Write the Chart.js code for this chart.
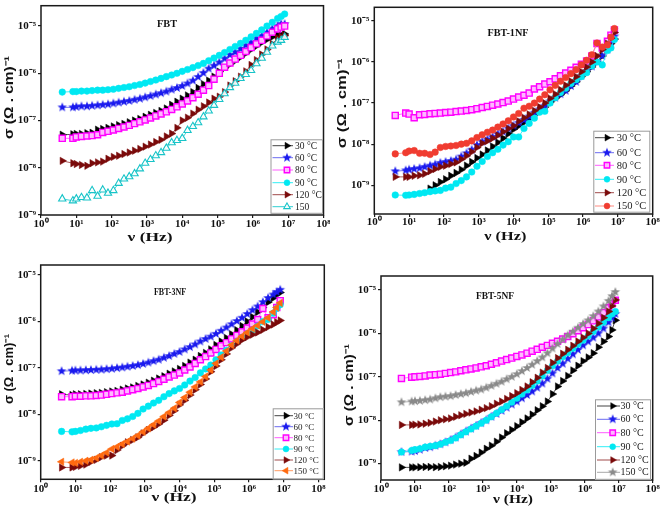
<!DOCTYPE html>
<html><head><meta charset="utf-8">
<script src="https://cdn.jsdelivr.net/npm/chart.js@4.4.0/dist/chart.umd.min.js"></script>
<style>
html,body{margin:0;padding:0;background:#fff;}
#wrap{position:relative;width:661px;height:510px;overflow:hidden;background:#fff;}
canvas{position:absolute;}
</style></head><body>
<div id="wrap">
<canvas id="c1" width="330" height="250" style="left:0px;top:0px"></canvas>
<canvas id="c2" width="331" height="250" style="left:330px;top:0px"></canvas>
<canvas id="c3" width="330" height="260" style="left:0px;top:250px"></canvas>
<canvas id="c4" width="331" height="260" style="left:330px;top:250px"></canvas>
</div>
<script>
// ---------- data ----------
const freq = [4,8,10,14,20,28,40,56,79,112,158,224,316,447,631,891,1260,1780,2510,3550,5010,7080,1.0e4,1.41e4,2.0e4,2.82e4,3.98e4,5.62e4,7.94e4,1.12e5,1.58e5,2.24e5,3.16e5,4.47e5,6.31e5,8.91e5,1.26e6,1.78e6,2.51e6,3.55e6,5.01e6,6.31e6,7.94e6];
const xTicks = [1,10,100,1e3,1e4,1e5,1e6,1e7,1e8];
const yTicks = [1e-9,1e-8,1e-7,1e-6,1e-5];
const tempLabels = ['30 °C','60 °C','80 °C','90 °C','120 °C','150 °C'];
const tempLabelsFBT = ['30 °C','60 °C','80 °C','90 °C','120 °C','150'];
const panelTitles = ['FBT','FBT-1NF','FBT-3NF','FBT-5NF'];

// FBT
const fbt30 = [5.0e-8,5.1e-8,5.2e-8,5.2e-8,5.4e-8,5.5e-8,6.4e-8,6.6e-8,7.0e-8,7.5e-8,8.0e-8,8.5e-8,9.2e-8,1.0e-7,1.08e-7,1.2e-7,1.32e-7,1.45e-7,1.6e-7,1.8e-7,2.15e-7,2.5e-7,2.9e-7,3.4e-7,4.0e-7,4.9e-7,5.9e-7,7.0e-7,8.5e-7,1.08e-6,1.3e-6,1.55e-6,1.85e-6,2.2e-6,2.65e-6,3.2e-6,3.8e-6,4.5e-6,5.2e-6,5.9e-6,6.5e-6,6.6e-6,6.8e-6];
const fbt60 = [1.9e-7,1.9e-7,1.95e-7,2.0e-7,2.0e-7,2.05e-7,2.1e-7,2.15e-7,2.2e-7,2.3e-7,2.4e-7,2.5e-7,2.6e-7,2.75e-7,2.9e-7,3.1e-7,3.3e-7,3.55e-7,3.8e-7,4.1e-7,4.5e-7,4.9e-7,5.4e-7,6.1e-7,7.0e-7,8.4e-7,1.02e-6,1.26e-6,1.45e-6,1.7e-6,2.05e-6,2.45e-6,2.8e-6,3.3e-6,3.9e-6,4.5e-6,5.5e-6,6.2e-6,7.3e-6,8.7e-6,1.0e-5,1.1e-5,1.1e-5];
const fbt80 = [4.2e-8,4.2e-8,4.5e-8,4.6e-8,4.7e-8,4.8e-8,5.0e-8,5.6e-8,5.9e-8,6.3e-8,6.8e-8,7.3e-8,7.9e-8,8.6e-8,9.4e-8,1.03e-7,1.13e-7,1.25e-7,1.38e-7,1.53e-7,1.72e-7,1.95e-7,2.25e-7,2.6e-7,3.05e-7,3.6e-7,4.4e-7,5.5e-7,7.5e-7,1.0e-6,1.35e-6,1.65e-6,2.0e-6,2.4e-6,2.9e-6,3.5e-6,4.2e-6,5.0e-6,6.2e-6,7.4e-6,8.7e-6,9.5e-6,1.0e-5];
const fbt90 = [4.0e-7,4.1e-7,4.1e-7,4.2e-7,4.2e-7,4.3e-7,4.4e-7,4.4e-7,4.5e-7,4.6e-7,4.8e-7,5.0e-7,5.2e-7,5.5e-7,5.8e-7,6.2e-7,6.7e-7,7.2e-7,7.8e-7,8.5e-7,9.2e-7,1.0e-6,1.1e-6,1.2e-6,1.32e-6,1.46e-6,1.62e-6,1.85e-6,2.1e-6,2.4e-6,2.75e-6,3.2e-6,3.7e-6,4.3e-6,5.0e-6,5.9e-6,7.0e-6,8.3e-6,1.0e-5,1.2e-5,1.45e-5,1.6e-5,1.8e-5];
const fbt120 = [1.4e-8,1.25e-8,1.2e-8,1.15e-8,1.1e-8,1.25e-8,1.3e-8,1.35e-8,1.55e-8,1.7e-8,1.8e-8,1.95e-8,2.1e-8,2.3e-8,2.5e-8,2.8e-8,3.1e-8,3.5e-8,3.9e-8,4.6e-8,5.3e-8,7.0e-8,1.0e-7,1.15e-7,1.4e-7,1.7e-7,2.0e-7,2.4e-7,2.9e-7,3.2e-7,4.0e-7,5.5e-7,6.8e-7,8.5e-7,1.1e-6,1.5e-6,1.9e-6,2.5e-6,3.2e-6,4.2e-6,5.5e-6,6.0e-6,6.3e-6];
const fbt150 = [2.2e-9,2.0e-9,2.2e-9,2.35e-9,2.3e-9,3.3e-9,2.5e-9,3.4e-9,2.9e-9,3.3e-9,4.7e-9,5.8e-9,6.5e-9,7.5e-9,9.5e-9,1.25e-8,1.5e-8,1.8e-8,2.1e-8,2.6e-8,3.4e-8,3.8e-8,4.2e-8,6.2e-8,7.5e-8,9.0e-8,1.2e-7,1.6e-7,2.1e-7,2.8e-7,3.7e-7,5.0e-7,6.2e-7,7.8e-7,9.5e-7,1.15e-6,1.6e-6,2.1e-6,2.8e-6,3.8e-6,4.6e-6,5.0e-6,5.8e-6];

// FBT-1NF
const nf1_30 = [null,null,null,null,null,null,8.3e-10,1.0e-9,1.2e-9,1.4e-9,1.7e-9,2.0e-9,2.4e-9,3.0e-9,3.7e-9,4.6e-9,5.6e-9,7.0e-9,8.8e-9,1.1e-8,1.4e-8,1.8e-8,2.3e-8,2.8e-8,3.4e-8,4.2e-8,5.2e-8,6.5e-8,8.0e-8,1.05e-7,1.3e-7,1.6e-7,2.0e-7,2.6e-7,3.3e-7,4.4e-7,5.8e-7,7.6e-7,1.0e-6,1.4e-6,2.0e-6,2.8e-6,3.6e-6];
const nf1_60 = [2.2e-9,2.3e-9,2.4e-9,2.5e-9,2.6e-9,2.8e-9,3.0e-9,3.2e-9,3.5e-9,3.7e-9,3.9e-9,4.2e-9,5.0e-9,6.0e-9,7.3e-9,9.5e-9,1.15e-8,1.3e-8,1.5e-8,1.75e-8,2.0e-8,2.4e-8,2.8e-8,3.3e-8,3.9e-8,4.7e-8,5.8e-8,7.0e-8,8.6e-8,1.1e-7,1.35e-7,1.65e-7,2.0e-7,2.6e-7,3.3e-7,4.6e-7,6.0e-7,7.8e-7,1.0e-6,1.4e-6,2.0e-6,3.0e-6,4.2e-6];
const nf1_80 = [5.0e-8,5.7e-8,5.4e-8,4.4e-8,5.2e-8,5.3e-8,5.5e-8,5.6e-8,5.7e-8,5.9e-8,6.0e-8,6.2e-8,6.4e-8,6.6e-8,6.9e-8,7.3e-8,7.8e-8,8.3e-8,8.9e-8,9.5e-8,1.03e-7,1.12e-7,1.25e-7,1.4e-7,1.55e-7,1.75e-7,2.2e-7,2.5e-7,2.9e-7,3.3e-7,3.9e-7,4.6e-7,5.4e-7,6.3e-7,7.4e-7,8.8e-7,1.05e-6,1.4e-6,2.8e-6,2.2e-6,3.2e-6,4.5e-6,6.0e-6];
const nf1_90 = [5.8e-10,5.7e-10,5.8e-10,6.0e-10,6.3e-10,6.6e-10,7.0e-10,7.3e-10,7.5e-10,8.5e-10,9.0e-10,1.1e-9,1.3e-9,1.6e-9,2.1e-9,2.9e-9,3.8e-9,5.0e-9,6.2e-9,7.5e-9,9.5e-9,1.15e-8,1.5e-8,1.5e-8,2.4e-8,3.2e-8,4.3e-8,6.0e-8,6.3e-8,1.0e-7,1.35e-7,1.8e-7,2.3e-7,3.0e-7,3.7e-7,4.4e-7,5.5e-7,8.0e-7,1.0e-6,8.5e-7,1.9e-6,2.2e-6,3.5e-6];
const nf1_120 = [1.6e-9,1.6e-9,1.6e-9,1.7e-9,1.75e-9,1.9e-9,2.2e-9,2.5e-9,2.8e-9,3.0e-9,3.3e-9,3.6e-9,4.3e-9,5.2e-9,6.5e-9,8.3e-9,1.05e-8,1.2e-8,1.4e-8,1.65e-8,2.0e-8,2.4e-8,2.8e-8,3.6e-8,4.4e-8,5.3e-8,6.5e-8,8.0e-8,1.0e-7,1.3e-7,1.65e-7,2.1e-7,2.7e-7,3.4e-7,4.4e-7,5.8e-7,7.5e-7,1.0e-6,1.4e-6,2.0e-6,2.8e-6,3.8e-6,5.2e-6];
const nf1_150 = [5.8e-9,6.2e-9,6.8e-9,7.0e-9,6.0e-9,6.0e-9,5.6e-9,6.4e-9,8.3e-9,8.8e-9,9.0e-9,9.3e-9,1.0e-8,1.05e-8,1.2e-8,1.45e-8,1.7e-8,1.95e-8,2.2e-8,2.6e-8,3.1e-8,3.7e-8,4.6e-8,5.6e-8,7.5e-8,8.4e-8,1.0e-7,1.25e-7,1.6e-7,2.1e-7,2.7e-7,3.4e-7,4.2e-7,5.2e-7,6.5e-7,8.5e-7,1.1e-6,1.5e-6,2.9e-6,2.3e-6,2.6e-6,4.0e-6,6.5e-6];

// FBT-3NF
const nf3_30 = [2.7e-8,2.6e-8,2.7e-8,2.7e-8,2.75e-8,2.8e-8,2.85e-8,2.9e-8,3.0e-8,3.1e-8,3.2e-8,3.4e-8,3.6e-8,3.8e-8,4.1e-8,4.4e-8,4.8e-8,5.3e-8,5.9e-8,6.6e-8,7.5e-8,8.4e-8,9.5e-8,1.1e-7,1.3e-7,1.5e-7,1.8e-7,2.1e-7,2.5e-7,3.1e-7,3.7e-7,4.4e-7,5.3e-7,6.5e-7,8.0e-7,1.0e-6,1.25e-6,1.6e-6,2.0e-6,2.6e-6,3.2e-6,3.8e-6,4.2e-6];
const nf3_60 = [8.5e-8,8.7e-8,8.8e-8,8.8e-8,8.9e-8,9.0e-8,9.1e-8,9.2e-8,9.4e-8,9.6e-8,9.9e-8,1.02e-7,1.06e-7,1.1e-7,1.15e-7,1.22e-7,1.3e-7,1.4e-7,1.5e-7,1.65e-7,1.8e-7,2.0e-7,2.2e-7,2.5e-7,2.8e-7,3.2e-7,3.7e-7,4.2e-7,4.7e-7,5.4e-7,6.3e-7,7.4e-7,8.7e-7,1.02e-6,1.2e-6,1.45e-6,1.75e-6,2.1e-6,2.6e-6,3.2e-6,3.8e-6,4.3e-6,4.8e-6];
const nf3_80 = [2.4e-8,2.4e-8,2.45e-8,2.45e-8,2.5e-8,2.5e-8,2.55e-8,2.6e-8,2.7e-8,2.8e-8,2.9e-8,3.0e-8,3.2e-8,3.4e-8,3.6e-8,3.9e-8,4.2e-8,4.6e-8,5.1e-8,5.7e-8,6.4e-8,7.0e-8,7.8e-8,9.0e-8,1.05e-7,1.25e-7,1.5e-7,1.75e-7,2.1e-7,2.5e-7,3.0e-7,3.5e-7,4.2e-7,5.0e-7,6.0e-7,7.2e-7,8.8e-7,1.1e-6,1.9e-6,1.2e-6,1.4e-6,2.0e-6,2.8e-6];
const nf3_90 = [4.3e-9,4.2e-9,4.3e-9,4.5e-9,4.8e-9,5.0e-9,5.1e-9,5.4e-9,5.8e-9,6.2e-9,6.3e-9,7.4e-9,8.0e-9,9.0e-9,1.05e-8,1.3e-8,1.5e-8,1.75e-8,2.0e-8,2.4e-8,2.8e-8,3.2e-8,3.6e-8,4.3e-8,5.2e-8,6.2e-8,7.8e-8,9.5e-8,1.15e-7,1.5e-7,1.9e-7,2.4e-7,3.0e-7,3.7e-7,4.5e-7,5.4e-7,6.5e-7,8.0e-7,1.0e-6,1.1e-6,1.5e-6,1.9e-6,2.3e-6];
const nf3_120 = [7.2e-10,7.2e-10,7.4e-10,7.8e-10,8.3e-10,9.5e-10,1.05e-9,1.2e-9,1.3e-9,1.3e-9,1.7e-9,2.1e-9,2.5e-9,2.8e-9,3.2e-9,3.9e-9,4.6e-9,5.3e-9,6.2e-9,7.5e-9,9.5e-9,1.2e-8,1.6e-8,2.0e-8,2.6e-8,3.4e-8,4.4e-8,5.8e-8,8.3e-8,1.1e-7,1.5e-7,2.0e-7,2.7e-7,3.3e-7,4.0e-7,4.6e-7,5.2e-7,5.8e-7,6.6e-7,7.6e-7,8.6e-7,9.6e-7,1.05e-6];
const nf3_150 = [9.5e-10,9.2e-10,9.0e-10,9.5e-10,1.0e-9,1.05e-9,1.15e-9,1.3e-9,1.5e-9,1.8e-9,2.0e-9,2.3e-9,2.6e-9,3.0e-9,3.5e-9,4.2e-9,5.0e-9,6.0e-9,7.2e-9,9.0e-9,1.1e-8,1.35e-8,1.8e-8,2.3e-8,3.0e-8,3.9e-8,5.0e-8,6.5e-8,9.0e-8,1.25e-7,1.7e-7,2.3e-7,3.1e-7,3.9e-7,4.8e-7,5.8e-7,7.0e-7,8.2e-7,9.8e-7,1.2e-6,1.6e-6,2.0e-6,2.5e-6];

// FBT-5NF
const nf5_30 = [8.2e-10,8.2e-10,8.2e-10,8.3e-10,8.4e-10,8.4e-10,8.3e-10,8.4e-10,8.7e-10,9.0e-10,9.5e-10,1.0e-9,1.05e-9,1.3e-9,1.5e-9,1.8e-9,2.2e-9,2.6e-9,3.2e-9,4.0e-9,5.0e-9,6.0e-9,7.3e-9,9.0e-9,1.1e-8,1.35e-8,1.7e-8,2.1e-8,2.7e-8,4.0e-8,6.0e-8,8.0e-8,1.05e-7,1.4e-7,1.8e-7,2.3e-7,2.8e-7,3.5e-7,4.8e-7,6.5e-7,8.5e-7,1.2e-6,2.0e-6];
const nf5_60 = [1.85e-9,1.9e-9,1.95e-9,2.1e-9,2.3e-9,2.4e-9,2.6e-9,2.8e-9,3.1e-9,3.5e-9,4.0e-9,4.7e-9,5.5e-9,6.4e-9,7.4e-9,8.6e-9,1.0e-8,1.2e-8,1.4e-8,1.65e-8,1.95e-8,2.3e-8,2.7e-8,3.2e-8,3.8e-8,4.6e-8,5.6e-8,7.0e-8,9.0e-8,1.2e-7,1.6e-7,2.0e-7,2.6e-7,3.3e-7,4.2e-7,5.3e-7,6.5e-7,8.0e-7,1.0e-6,1.3e-6,1.8e-6,2.3e-6,2.8e-6];
const nf5_80 = [9.2e-8,9.8e-8,1.0e-7,1.02e-7,1.05e-7,1.1e-7,1.12e-7,1.15e-7,1.2e-7,1.25e-7,1.3e-7,1.38e-7,1.45e-7,1.52e-7,1.6e-7,1.7e-7,1.8e-7,1.95e-7,2.1e-7,2.3e-7,2.5e-7,2.7e-7,2.95e-7,3.2e-7,3.5e-7,3.9e-7,4.3e-7,4.8e-7,5.3e-7,5.9e-7,6.6e-7,7.4e-7,8.5e-7,9.8e-7,1.15e-6,1.35e-6,1.6e-6,1.95e-6,2.4e-6,3.0e-6,3.9e-6,4.8e-6,5.8e-6];
const nf5_90 = [1.85e-9,2.0e-9,2.1e-9,2.2e-9,2.4e-9,2.5e-9,2.6e-9,2.8e-9,3.1e-9,3.4e-9,3.9e-9,4.6e-9,5.4e-9,6.3e-9,7.3e-9,8.5e-9,1.0e-8,1.2e-8,1.45e-8,1.75e-8,2.1e-8,2.6e-8,3.2e-8,4.0e-8,5.0e-8,6.3e-8,8.0e-8,1.05e-7,1.4e-7,1.8e-7,2.3e-7,2.9e-7,3.6e-7,4.5e-7,5.6e-7,7.0e-7,8.7e-7,1.1e-6,1.4e-6,1.8e-6,2.3e-6,2.8e-6,3.2e-6];
const nf5_120 = [7.8e-9,7.8e-9,7.9e-9,8.0e-9,8.3e-9,8.7e-9,9.3e-9,1.0e-8,1.05e-8,1.1e-8,1.2e-8,1.3e-8,1.4e-8,1.5e-8,1.6e-8,1.75e-8,1.9e-8,2.1e-8,2.4e-8,2.7e-8,3.1e-8,3.6e-8,4.2e-8,5.0e-8,6.0e-8,7.5e-8,9.5e-8,1.25e-7,1.6e-7,2.1e-7,2.7e-7,3.4e-7,4.2e-7,5.2e-7,6.5e-7,8.0e-7,1.0e-6,1.3e-6,1.7e-6,2.3e-6,3.2e-6,4.3e-6,5.9e-6];
const nf5_150 = [2.6e-8,2.7e-8,2.75e-8,2.8e-8,2.9e-8,3.0e-8,3.2e-8,3.4e-8,3.5e-8,3.6e-8,3.8e-8,4.0e-8,4.2e-8,4.5e-8,4.8e-8,5.1e-8,5.6e-8,6.2e-8,6.9e-8,7.7e-8,8.8e-8,1.0e-7,1.15e-7,1.35e-7,1.6e-7,1.9e-7,2.3e-7,2.8e-7,3.5e-7,4.5e-7,5.7e-7,7.2e-7,9.0e-7,1.1e-6,1.35e-6,1.65e-6,2.0e-6,2.5e-6,3.2e-6,4.2e-6,5.6e-6,7.2e-6,9.0e-6];

// ---------- styling helpers ----------
const SUP = {'-':'\u207B','0':'\u2070','1':'\u00B9','2':'\u00B2','3':'\u00B3','4':'\u2074','5':'\u2075','6':'\u2076','7':'\u2077','8':'\u2078','9':'\u2079'};
function decadeLabel(v){ const e = Math.round(Math.log10(v)); return '10' + String(e).split('').map(c=>SUP[c]).join(''); }

function starCanvas(color, R){
  const s = Math.ceil(2*R+2); const c = document.createElement('canvas'); c.width = s; c.height = s;
  const g = c.getContext('2d'); g.fillStyle = color; g.beginPath();
  for (let k=0;k<10;k++){ const r = (k%2) ? R*0.42 : R; const a = -Math.PI/2 + k*Math.PI/5;
    const px = s/2 + r*Math.cos(a), py = s/2 + r*Math.sin(a); if(k) g.lineTo(px,py); else g.moveTo(px,py); }
  g.closePath(); g.fill(); return c;
}

const STY = {
  t30:  {pointStyle:'triangle', rot:90, r:4.3, bg:'#000000', bd:'#000000', bw:0.5, line:'#444444'},
  s60:  {pointStyle:starCanvas('#1a1aee',5.0), rot:0, r:4, bg:'#1a1aee', bd:'#1a1aee', bw:0, line:'#6b6bf0'},
  q80:  {pointStyle:'rect', rot:0, r:4.3, bg:'#ffb8ff', bd:'#ff00ff', bw:1.4, line:'#ff5cff'},
  c90:  {pointStyle:'circle', rot:0, r:3.3, bg:'#00e8f2', bd:'#00e8f2', bw:0.5, line:'#30eef5'},
  t120: {pointStyle:'triangle', rot:90, r:4.3, bg:'#7a0a0a', bd:'#7a0a0a', bw:0.5, line:'#a04a4a'},
  o150: {pointStyle:'triangle', rot:0, r:4.2, bg:'rgba(255,255,255,0.9)', bd:'#18c4c8', bw:1.1, line:'#30cfd2'},
  r150: {pointStyle:'circle', rot:0, r:3.3, bg:'#f03c30', bd:'#f03c30', bw:0.5, line:'#ff8a80'},
  l150: {pointStyle:'triangle', rot:-90, r:4.3, bg:'#ff6a10', bd:'#ff6a10', bw:0.5, line:'#ff9a60'},
  g150: {pointStyle:starCanvas('#8a8a8a',5.0), rot:0, r:4, bg:'#8a8a8a', bd:'#8a8a8a', bw:0, line:'#a8a8a8'}
};

function ds(label, arr, st, idx){
  return {
    label: label,
    data: freq.map((f,i)=>({x:f, y:arr[i]})),
    borderColor: st.line, borderWidth: 0.9, fill:false, tension:0, showLine:true,
    pointStyle: st.pointStyle, pointRotation: st.rot, pointRadius: st.r,
    pointBackgroundColor: st.bg, pointBorderColor: st.bd, pointBorderWidth: st.bw,
    order: 5 - idx, _st: st
  };
}

function fitText(ctx, text, cx, cy, font, targetW, rot, color){
  ctx.save(); ctx.translate(cx, cy); ctx.rotate(rot||0); ctx.font = font;
  const w = ctx.measureText(text).width; if (targetW) ctx.scale(targetW / w, 1);
  ctx.fillStyle = color || '#111'; ctx.textAlign = 'center'; ctx.textBaseline = 'middle';
  ctx.fillText(text, 0, 0); ctx.restore();
}

const deco = {
  id: 'deco',
  afterDraw(chart, args, o){
    const ctx = chart.ctx, a = chart.chartArea;
    ctx.save();
    ctx.strokeStyle = '#1a1a1a'; ctx.lineWidth = 1.5;
    ctx.strokeRect(a.left, a.top, a.right - a.left, a.bottom - a.top);
    fitText(ctx, o.title.text, o.title.x, o.title.y, 'bold 11px "Liberation Serif"', o.title.w, 0, '#111');
    fitText(ctx, 'σ (Ω . cm)\u207B\u00B9', o.yt.x, o.yt.y, 'bold 12px "Liberation Sans"', o.yt.len, -Math.PI/2, '#111');
    fitText(ctx, 'ν (Hz)', o.xt.x, o.xt.y, 'bold 12px "Liberation Serif"', o.xt.w, 0, '#111');
    const L = o.legend;
    ctx.fillStyle = '#fff'; ctx.fillRect(L.x, L.y, L.w, L.h);
    ctx.strokeStyle = '#9a9a9a'; ctx.lineWidth = 1; ctx.strokeRect(L.x + 0.5, L.y + 0.5, L.w - 1, L.h - 1);
    chart.data.datasets.forEach((d, i) => {
      const y = L.rows[i]; const st = d._st;
      ctx.strokeStyle = st.line; ctx.lineWidth = 1;
      ctx.beginPath(); ctx.moveTo(L.lx0, y); ctx.lineTo(L.lx1, y); ctx.stroke();
      ctx.fillStyle = st.bg; ctx.strokeStyle = st.bd; ctx.lineWidth = st.bw;
      Chart.helpers.drawPoint(ctx, {pointStyle: st.pointStyle, rotation: st.rot, radius: st.r * 0.9, borderWidth: st.bw}, L.mx, y);
      ctx.fillStyle = '#222'; ctx.font = L.font; ctx.textAlign = 'left'; ctx.textBaseline = 'middle';
      ctx.fillText(o.labels[i], L.tx, y + 0.5);
    });
    ctx.restore();
  }
};

function makePanel(id, cfg){
  const canvas = document.getElementById(id);
  const W = canvas.width, H = canvas.height;
  const datasets = cfg.series.map((s, i) => ds(cfg.labels[i], s[0], s[1], i));
  return new Chart(canvas, {
    type: 'line',
    data: { datasets },
    plugins: [deco],
    options: {
      responsive: false, animation: false, devicePixelRatio: 1, events: [],
      layout: { padding: { left: 0, top: cfg.T, right: W - cfg.R, bottom: 0 } },
      plugins: {
        legend: { display: false }, tooltip: { enabled: false },
        deco: { title: cfg.title, yt: cfg.yt, xt: cfg.xt, legend: cfg.legend, labels: cfg.labels }
      },
      scales: {
        x: {
          type: 'logarithmic', position: 'bottom', min: 1, max: cfg.xmax,
          afterBuildTicks: s => { s.ticks = xTicks.map(v => ({value: v})); },
          afterFit: s => { s.height = H - cfg.B; s.paddingLeft = 0; s.paddingRight = 0; },
          grid: { display: true, drawOnChartArea: false, drawTicks: true, tickLength: 3, color: '#1a1a1a', lineWidth: 1.2 },
          border: { display: false },
          ticks: { autoSkip: false, maxRotation: 0, padding: cfg.xpad, color: '#111',
                   font: { family: 'Liberation Serif', weight: 'bold', size: 11 },
                   callback: v => decadeLabel(v) }
        },
        y: {
          type: 'logarithmic', position: 'left', min: cfg.ymin, max: cfg.ymax,
          afterBuildTicks: s => { s.ticks = yTicks.map(v => ({value: v})); },
          afterFit: s => { s.width = cfg.L; s.paddingTop = 0; s.paddingBottom = 0; },
          grid: { display: true, drawOnChartArea: false, drawTicks: true, tickLength: 3, color: '#1a1a1a', lineWidth: 1.2 },
          border: { display: false },
          ticks: { autoSkip: false, padding: 2, color: '#111',
                   font: { family: 'Liberation Serif', weight: 'bold', size: 11 },
                   callback: v => decadeLabel(v) }
        }
      }
    }
  });
}

makePanel('c1', {
  L: 41, T: 3, R: 323.5, B: 215, xmax: 1e8, ymin: 1e-9, ymax: 2.7e-5, xpad: 0,
  labels: tempLabelsFBT,
  series: [[fbt30, STY.t30],[fbt60, STY.s60],[fbt80, STY.q80],[fbt90, STY.c90],[fbt120, STY.t120],[fbt150, STY.o150]],
  title: {text: panelTitles[0], x: 167, y: 24, w: 20},
  yt: {x: 10, y: 97.5, len: 83}, xt: {x: 150, y: 237.7, w: 45},
  legend: {x: 270.5, y: 139.3, w: 52.5, h: 74.5, rows: [145.7,157.7,170,182.7,194.7,206.7], lx0: 272.5, lx1: 293, mx: 287, tx: 295, font: '9.5px "Liberation Serif"'}
});
makePanel('c2', {
  L: 44.3, T: 7.3, R: 322.7, B: 214, xmax: 1e8, ymin: 2.0e-10, ymax: 2.14e-5, xpad: -1,
  labels: tempLabels,
  series: [[nf1_30, STY.t30],[nf1_60, STY.s60],[nf1_80, STY.q80],[nf1_90, STY.c90],[nf1_120, STY.t120],[nf1_150, STY.r150]],
  title: {text: panelTitles[1], x: 178, y: 33, w: 41},
  yt: {x: 12.7, y: 103.3, len: 90}, xt: {x: 175.3, y: 237.3, w: 42},
  legend: {x: 263.3, y: 130.7, w: 57, h: 82, rows: [137.7,152.7,165.3,179.3,192.7,206], lx0: 265, lx1: 284, mx: 277, tx: 286.7, font: '10.5px "Liberation Serif"'}
});
makePanel('c3', {
  L: 40.7, T: 15, R: 324.3, B: 229.3, xmax: 1.48e8, ymin: 4.0e-10, ymax: 1.64e-5, xpad: 0,
  labels: tempLabels,
  series: [[nf3_30, STY.t30],[nf3_60, STY.s60],[nf3_80, STY.q80],[nf3_90, STY.c90],[nf3_120, STY.t120],[nf3_150, STY.l150]],
  title: {text: panelTitles[2], x: 170, y: 41.7, w: 32},
  yt: {x: 10, y: 119, len: 70}, xt: {x: 174, y: 248, w: 45},
  legend: {x: 272.7, y: 158.3, w: 51, h: 71, rows: [165.7,176.7,187.7,199,210,220.7], lx0: 274.5, lx1: 293, mx: 286, tx: 293.5, font: '9px "Liberation Serif"'}
});
makePanel('c4', {
  L: 51, T: 26, R: 322.7, B: 230, xmax: 1e8, ymin: 4.2e-10, ymax: 2.1e-5, xpad: 0,
  labels: tempLabels,
  series: [[nf5_30, STY.t30],[nf5_60, STY.s60],[nf5_80, STY.q80],[nf5_90, STY.c90],[nf5_120, STY.t120],[nf5_150, STY.g150]],
  title: {text: panelTitles[3], x: 165, y: 46, w: 38},
  yt: {x: 20, y: 135, len: 82}, xt: {x: 183, y: 250, w: 40},
  legend: {x: 265, y: 149.3, w: 56, h: 80.5, rows: [156,169.3,182.7,196.7,210,222.3], lx0: 267, lx1: 290, mx: 282.7, tx: 290.5, font: '10px "Liberation Serif"'}
});
</script>
</body></html>
